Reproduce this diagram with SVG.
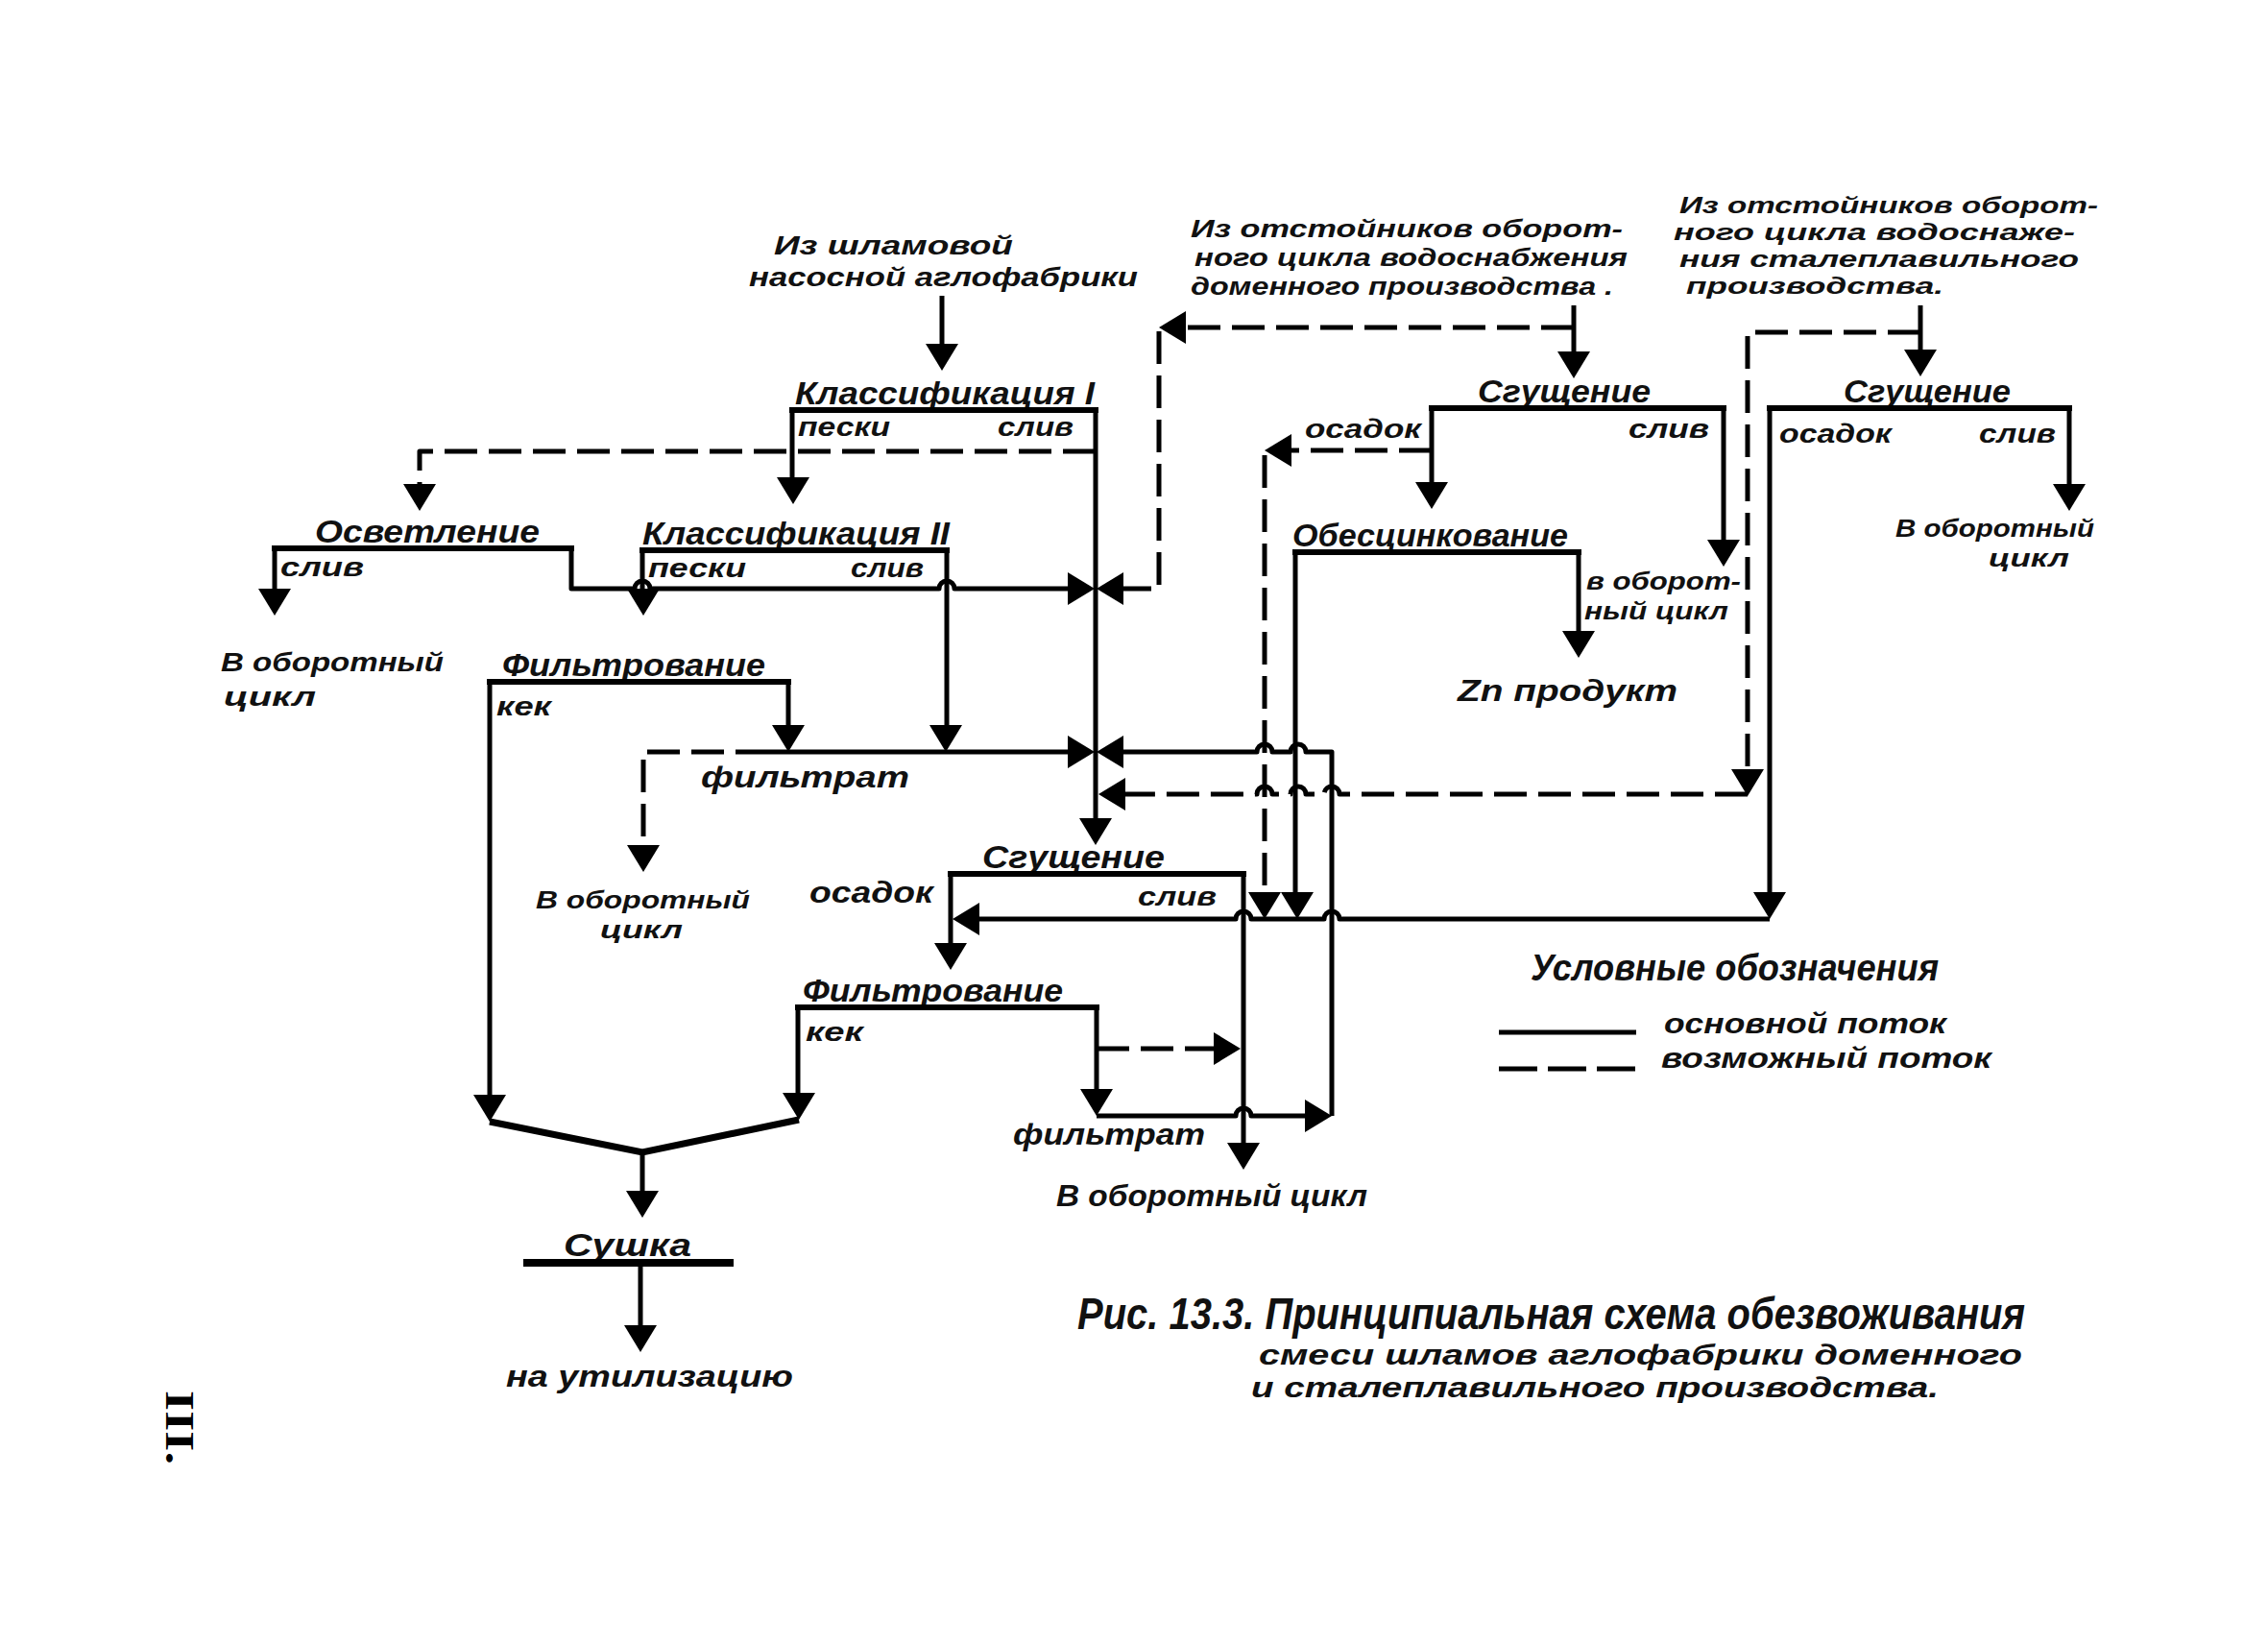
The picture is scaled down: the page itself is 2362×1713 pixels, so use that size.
<svg xmlns="http://www.w3.org/2000/svg" width="2362" height="1713" viewBox="0 0 2362 1713">
<style>
.ln{stroke:#000;stroke-width:5;fill:none;stroke-linejoin:round}
.bar{stroke:#000;stroke-width:6;fill:none;stroke-linecap:square}
.ds{stroke-dasharray:34 12}
.t{font-family:"Liberation Sans","DejaVu Sans",sans-serif;font-style:italic;font-weight:bold;fill:#111;font-size:28px}
.h{font-size:34px}
.s{font-size:26px}
.m{font-size:32px}
.big{font-size:46px}
.cap{font-size:30px}
.ah{fill:#000}
</style>
<defs>
<path id="ah" d="M0 0 L-17 -28 L17 -28 Z"/>
</defs>
<rect width="2362" height="1713" fill="#fff"/>

<g id="src-aglo">
<text class="t" x="806" y="265" textLength="249" lengthAdjust="spacingAndGlyphs">Из шламовой</text>
<text class="t" x="780" y="298" textLength="405" lengthAdjust="spacingAndGlyphs">насосной аглофабрики</text>
</g>
<g id="klass1">
<text class="t h" x="828" y="421" textLength="312" lengthAdjust="spacingAndGlyphs">Классификация I</text>
<line class="bar" x1="825" y1="427" x2="1141" y2="427"/>
<text class="t" x="831" y="454" textLength="96" lengthAdjust="spacingAndGlyphs">пески</text>
<text class="t" x="1039" y="454" textLength="79" lengthAdjust="spacingAndGlyphs">слив</text>
</g>
<g id="osvetl">
<text class="t h" x="328" y="565" textLength="234" lengthAdjust="spacingAndGlyphs">Осветление</text>
<line class="bar" x1="286" y1="571" x2="595" y2="571"/>
<text class="t" x="292" y="600" textLength="87" lengthAdjust="spacingAndGlyphs">слив</text>
</g>
<g id="klass2">
<text class="t h" x="669" y="567" textLength="320" lengthAdjust="spacingAndGlyphs">Классификация II</text>
<line class="bar" x1="669" y1="573" x2="986" y2="573"/>
<text class="t" x="675" y="601" textLength="102" lengthAdjust="spacingAndGlyphs">пески</text>
<text class="t" x="886" y="601" textLength="76" lengthAdjust="spacingAndGlyphs">слив</text>
</g>
<g id="out-left">
<text class="t" x="230" y="699" textLength="232" lengthAdjust="spacingAndGlyphs">В оборотный</text>
<text class="t" x="233" y="735" textLength="96" lengthAdjust="spacingAndGlyphs">цикл</text>
</g>
<g id="filtr1">
<text class="t h" x="523" y="704" textLength="274" lengthAdjust="spacingAndGlyphs">Фильтрование</text>
<line class="bar" x1="510" y1="710" x2="821" y2="710"/>
<text class="t" x="517" y="745" textLength="57" lengthAdjust="spacingAndGlyphs">кек</text>
<text class="t m" x="730" y="820" textLength="217" lengthAdjust="spacingAndGlyphs">фильтрат</text>
</g>
<g id="out-mid">
<text class="t s" x="558" y="946" textLength="223" lengthAdjust="spacingAndGlyphs">В оборотный</text>
<text class="t s" x="625" y="977" textLength="86" lengthAdjust="spacingAndGlyphs">цикл</text>
</g>
<g id="sgush-mid">
<text class="t h" x="1023" y="904" textLength="190" lengthAdjust="spacingAndGlyphs">Сгущение</text>
<line class="bar" x1="990" y1="910" x2="1295" y2="910"/>
<text class="t m" x="843" y="940" textLength="129" lengthAdjust="spacingAndGlyphs">осадок</text>
<text class="t" x="1185" y="943" textLength="82" lengthAdjust="spacingAndGlyphs">слив</text>
</g>
<g id="filtr2">
<text class="t h" x="836" y="1043" textLength="271" lengthAdjust="spacingAndGlyphs">Фильтрование</text>
<line class="bar" x1="831" y1="1049" x2="1142" y2="1049"/>
<text class="t" x="839" y="1084" textLength="60" lengthAdjust="spacingAndGlyphs">кек</text>
<text class="t m" x="1055" y="1192" textLength="200" lengthAdjust="spacingAndGlyphs">фильтрат</text>
</g>
<g id="out-bottom">
<text class="t m" x="1100" y="1256" textLength="324" lengthAdjust="spacingAndGlyphs">В оборотный цикл</text>
</g>
<g id="sushka">
<text class="t h" x="587" y="1308" textLength="133" lengthAdjust="spacingAndGlyphs">Сушка</text>
<line x1="545" y1="1315" x2="764" y2="1315" stroke="#000" stroke-width="8"/>
<text class="t m" x="527" y="1444" textLength="299" lengthAdjust="spacingAndGlyphs">на утилизацию</text>
</g>
<g id="src-dom">
<text class="t s" x="1240" y="247" textLength="450" lengthAdjust="spacingAndGlyphs">Из отстойников оборот-</text>
<text class="t s" x="1244" y="277" textLength="451" lengthAdjust="spacingAndGlyphs">ного цикла водоснабжения</text>
<text class="t s" x="1240" y="307" textLength="440" lengthAdjust="spacingAndGlyphs">доменного производства .</text>
</g>
<g id="sgush-dom">
<text class="t h" x="1539" y="419" textLength="180" lengthAdjust="spacingAndGlyphs">Сгущение</text>
<line class="bar" x1="1491" y1="425" x2="1795" y2="425"/>
<text class="t" x="1359" y="456" textLength="121" lengthAdjust="spacingAndGlyphs">осадок</text>
<text class="t" x="1696" y="456" textLength="84" lengthAdjust="spacingAndGlyphs">слив</text>
</g>
<g id="obescink">
<text class="t h" x="1346" y="569" textLength="287" lengthAdjust="spacingAndGlyphs">Обесцинкование</text>
<line class="bar" x1="1349" y1="575" x2="1644" y2="575"/>
<text class="t s" x="1652" y="614" textLength="161" lengthAdjust="spacingAndGlyphs">в оборот-</text>
<text class="t s" x="1650" y="645" textLength="150" lengthAdjust="spacingAndGlyphs">ный цикл</text>
</g>
<g id="zn">
<text class="t m" x="1518" y="730" textLength="229" lengthAdjust="spacingAndGlyphs">Zn продукт</text>
</g>
<g id="src-stal">
<text class="t" x="1749" y="222" textLength="436" lengthAdjust="spacingAndGlyphs" style="font-size:24.5px">Из отстойников оборот-</text>
<text class="t" x="1743" y="250" textLength="418" lengthAdjust="spacingAndGlyphs" style="font-size:24.5px">ного цикла водоснаже-</text>
<text class="t" x="1749" y="278" textLength="416" lengthAdjust="spacingAndGlyphs" style="font-size:24.5px">ния  сталеплавильного</text>
<text class="t" x="1756" y="306" textLength="268" lengthAdjust="spacingAndGlyphs" style="font-size:24.5px">производства.</text>
</g>
<g id="sgush-stal">
<text class="t h" x="1920" y="419" textLength="174" lengthAdjust="spacingAndGlyphs">Сгущение</text>
<line class="bar" x1="1843" y1="425" x2="2155" y2="425"/>
<text class="t" x="1853" y="461" textLength="117" lengthAdjust="spacingAndGlyphs">осадок</text>
<text class="t" x="2061" y="461" textLength="80" lengthAdjust="spacingAndGlyphs">слив</text>
</g>
<g id="out-stal">
<text class="t s" x="1974" y="559" textLength="207" lengthAdjust="spacingAndGlyphs">В оборотный</text>
<text class="t s" x="2071" y="590" textLength="84" lengthAdjust="spacingAndGlyphs">цикл</text>
</g>

<g id="connectors">
<path class="ln" d="M981 308 V362"/>
<use href="#ah" class="ah" transform="translate(981,386)"/>
<path class="ln" d="M825 427 V500"/>
<use href="#ah" class="ah" transform="translate(826,525)"/>
<path class="ln" d="M1141 427 V856"/>
<use href="#ah" class="ah" transform="translate(1141,880)"/>
<path class="ln ds" d="M1141 470 H437 V506"/>
<use href="#ah" class="ah" transform="translate(437,532)"/>
<path class="ln" d="M286 571 V616"/>
<use href="#ah" class="ah" transform="translate(286,641)"/>
<path class="ln" d="M595 571 V613 H661 A8 8 0 0 1 677 613 H978 A8 8 0 0 1 994 613 H1116"/>
<use href="#ah" class="ah" transform="translate(1140,613) rotate(-90)"/>
<path class="ln" d="M669 573 V616"/>
<use href="#ah" class="ah" transform="translate(670,641)"/>
<path class="ln" d="M986 573 V758"/>
<use href="#ah" class="ah" transform="translate(985,783)"/>
<path class="ln" d="M1639 318 V368"/>
<use href="#ah" class="ah" transform="translate(1639,394)"/>
<path class="ln ds" d="M1639 341 H1232"/>
<use href="#ah" class="ah" transform="translate(1207,341) rotate(90)"/>
<path class="ln ds" d="M1207 345 V613 H1168"/>
<use href="#ah" class="ah" transform="translate(1142,613) rotate(90)"/>
<path class="ln" d="M821 710 V758"/>
<use href="#ah" class="ah" transform="translate(821,783)"/>
<path class="ln" d="M510 710 V1142"/>
<use href="#ah" class="ah" transform="translate(510,1168)"/>
<path class="ln ds" d="M800 783 H670 V882"/>
<use href="#ah" class="ah" transform="translate(670,908)"/>
<path class="ln" d="M800 783 H1116"/>
<use href="#ah" class="ah" transform="translate(1140,783) rotate(-90)"/>
<path class="ln" d="M1387 1162 V783 H1360 A8 8 0 0 0 1344 783 H1325 A8 8 0 0 0 1309 783 H1168"/>
<use href="#ah" class="ah" transform="translate(1142,783) rotate(90)"/>
<path class="ln" d="M2000 318 V366"/>
<use href="#ah" class="ah" transform="translate(2000,392)"/>
<path class="ln ds" d="M2000 346 H1820 V805"/>
<use href="#ah" class="ah" transform="translate(1820,829)"/>
<path class="ln ds" d="M1820 827 H1395 A8 8 0 0 0 1379 827 H1360 A8 8 0 0 0 1344 827 H1325 A8 8 0 0 0 1309 827 H1170"/>
<use href="#ah" class="ah" transform="translate(1144,827) rotate(90)"/>
<path class="ln" d="M1491 425 V505"/>
<use href="#ah" class="ah" transform="translate(1491,530)"/>
<path class="ln" d="M1795 425 V565"/>
<use href="#ah" class="ah" transform="translate(1795,590)"/>
<path class="ln ds" d="M1491 469 H1344"/>
<use href="#ah" class="ah" transform="translate(1317,469) rotate(90)"/>
<path class="ln ds" d="M1317 474 V932"/>
<use href="#ah" class="ah" transform="translate(1317,957)"/>
<path class="ln" d="M1644 575 V660"/>
<use href="#ah" class="ah" transform="translate(1644,685)"/>
<path class="ln" d="M1349 575 V932"/>
<use href="#ah" class="ah" transform="translate(1351,957)"/>
<path class="ln" d="M2155 425 V507"/>
<use href="#ah" class="ah" transform="translate(2155,532)"/>
<path class="ln" d="M1843 425 V932"/>
<use href="#ah" class="ah" transform="translate(1843,957)"/>
<path class="ln" d="M1843 957 H1395 A8 8 0 0 0 1379 957 H1303 A8 8 0 0 0 1287 957 H1018"/>
<use href="#ah" class="ah" transform="translate(992,957) rotate(90)"/>
<path class="ln" d="M990 910 V985"/>
<use href="#ah" class="ah" transform="translate(990,1010)"/>
<path class="ln" d="M1295 910 V1193"/>
<use href="#ah" class="ah" transform="translate(1295,1218)"/>
<path class="ln" d="M831 1049 V1140"/>
<use href="#ah" class="ah" transform="translate(832,1166)"/>
<path class="ln" d="M1142 1049 V1140"/>
<use href="#ah" class="ah" transform="translate(1142,1162)"/>
<path class="ln" d="M1142 1162 H1287 A8 8 0 0 1 1303 1162 H1362"/>
<use href="#ah" class="ah" transform="translate(1387,1162) rotate(-90)"/>
<path class="ln ds" d="M1142 1092 H1266"/>
<use href="#ah" class="ah" transform="translate(1292,1092) rotate(-90)"/>
<path d="M510 1168 L669 1200 L832 1166" stroke="#000" stroke-width="7" fill="none" stroke-linejoin="miter"/>
<path class="ln" d="M669 1200 V1243"/>
<use href="#ah" class="ah" transform="translate(669,1268)"/>
<path class="ln" d="M667 1315 V1383"/>
<use href="#ah" class="ah" transform="translate(667,1408)"/>
</g>

<g id="legend">
<text class="t" x="1594" y="1021" textLength="425" lengthAdjust="spacingAndGlyphs" style="font-size:38px">Условные обозначения</text>
<line x1="1561" y1="1075" x2="1704" y2="1075" stroke="#000" stroke-width="5"/>
<text class="t cap" x="1733" y="1076" textLength="294" lengthAdjust="spacingAndGlyphs">основной поток</text>
<line x1="1561" y1="1113" x2="1708" y2="1113" stroke="#000" stroke-width="5" stroke-dasharray="40 11"/>
<text class="t cap" x="1730" y="1112" textLength="344" lengthAdjust="spacingAndGlyphs">возможный поток</text>
</g>

<g id="caption">
<text class="t big" x="1122" y="1384" textLength="987" lengthAdjust="spacingAndGlyphs">Рис. 13.3. Принципиальная схема обезвоживания</text>
<text class="t cap" x="1311" y="1421" textLength="795" lengthAdjust="spacingAndGlyphs">смеси шламов аглофабрики доменного</text>
<text class="t cap" x="1303" y="1455" textLength="716" lengthAdjust="spacingAndGlyphs">и сталеплавильного производства.</text>
</g>

<g id="page-number">
<text transform="translate(173,1448) rotate(90)" font-family="'Liberation Serif',serif" font-weight="bold" font-size="42" textLength="77" lengthAdjust="spacingAndGlyphs">III.</text>
</g>
</svg>
